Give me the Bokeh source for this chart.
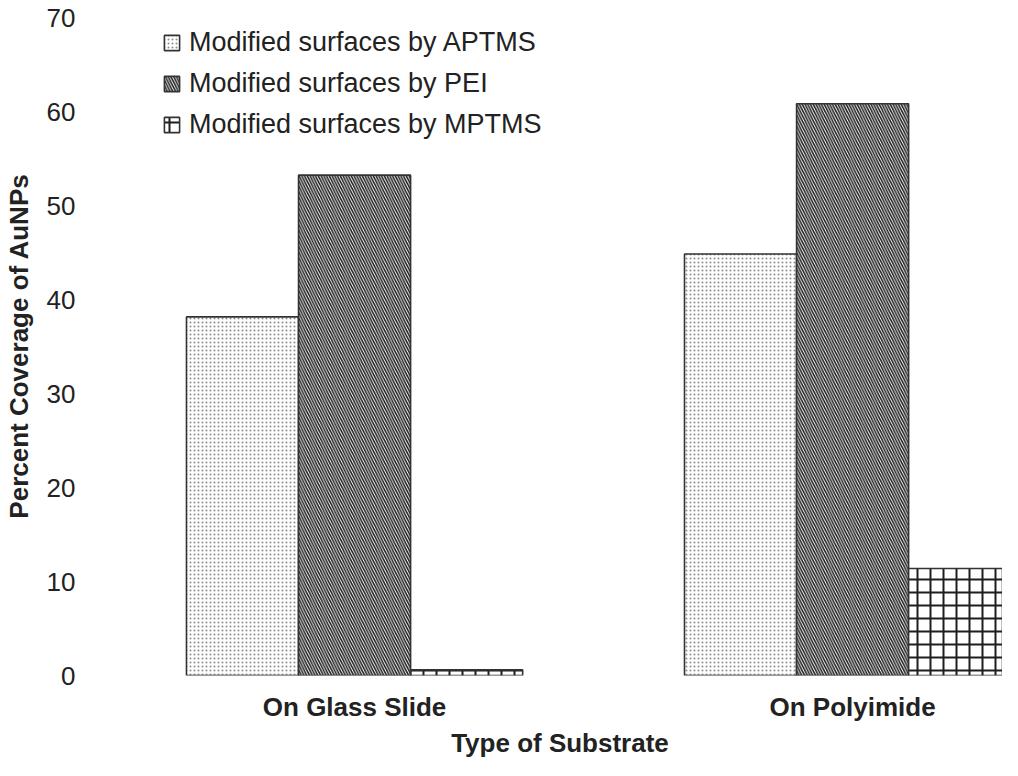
from bokeh.plotting import figure
from bokeh.models import FixedTicker, Legend, LegendItem, ColumnDataSource
from bokeh.embed import file_html
from bokeh.resources import INLINE

# ---- data ----
categories = ["On Glass Slide", "On Polyimide"]
series = ["Modified surfaces by APTMS", "Modified surfaces by PEI", "Modified surfaces by MPTMS"]
aptms = [38.2, 44.9]
pei = [53.3, 60.9]
mptms = [0.6, 11.4]
y_ticks = [0, 10, 20, 30, 40, 50, 60, 70]

FONT = "Liberation Sans"
W, H = 1002, 760
TOP, BOTTOM, LEFT = 16, 73, 110
frame_h = H - TOP - BOTTOM

p = figure(width=W, height=H, output_backend="svg", toolbar_location=None,
           x_range=(-0.476, 1.301), y_range=(0, 70.2),
           min_border_left=LEFT, min_border_right=0, min_border_top=TOP, min_border_bottom=BOTTOM)
p.outline_line_color = None
p.xgrid.grid_line_color = None
p.ygrid.grid_line_color = None
p.background_fill_color = "white"

xs = list(range(len(categories)))
bw = 0.225
styles = [
    dict(hatch_pattern="dot", hatch_scale=4, hatch_weight=1.0, hatch_color="#8c8c8c"),
    dict(hatch_pattern="left_diagonal_line", hatch_scale=5.5, hatch_weight=1.6, hatch_color="#222222"),
    dict(hatch_pattern="cross", hatch_scale=13, hatch_weight=2, hatch_color="#1e1e1e"),
]
items = []
for i, (name, vals, st) in enumerate(zip(series, [aptms, pei, mptms], styles)):
    src = ColumnDataSource(dict(x=[x + (i - 1) * bw for x in xs], top=vals))
    r = p.vbar(x="x", top="top", width=bw, bottom=0, source=src, fill_color="white",
               line_color="#333333", line_width=1.6, **st)
    items.append(LegendItem(label=name, renderers=[r]))

# axes
p.yaxis.ticker = FixedTicker(ticks=y_ticks)
p.yaxis.axis_line_color = None
p.yaxis.major_tick_line_color = None
p.yaxis.minor_tick_line_color = None
p.yaxis.major_label_standoff = 36
p.yaxis.major_label_text_font = FONT
p.yaxis.major_label_text_font_size = "26px"
p.yaxis.major_label_text_color = "#222222"
p.yaxis.axis_label = "Percent Coverage of AuNPs"
p.yaxis.axis_label_text_font = FONT
p.yaxis.axis_label_text_font_size = "26px"
p.yaxis.axis_label_text_font_style = "bold"
p.yaxis.axis_label_text_color = "#222222"
p.yaxis.axis_label_standoff = 10

p.xaxis.ticker = FixedTicker(ticks=xs)
p.xaxis.major_label_overrides = {x: c for x, c in zip(xs, categories)}
p.xaxis.axis_line_color = None
p.xaxis.major_tick_line_color = None
p.xaxis.minor_tick_line_color = None
p.xaxis.major_label_standoff = 10
p.xaxis.major_label_text_font = FONT
p.xaxis.major_label_text_font_size = "26px"
p.xaxis.major_label_text_font_style = "bold"
p.xaxis.major_label_text_color = "#222222"
p.xaxis.axis_label = "Type of Substrate"
p.xaxis.axis_label_text_font = FONT
p.xaxis.axis_label_text_font_size = "26px"
p.xaxis.axis_label_text_font_style = "bold"
p.xaxis.axis_label_text_color = "#222222"
p.xaxis.axis_label_standoff = 3

leg_h = 3 * 32 + 2 * 9
legend = Legend(items=items, location=(45, frame_h - 22 - leg_h), orientation="vertical",
                label_text_font=FONT, label_text_font_size="27px", label_text_color="#222222",
                glyph_width=19, glyph_height=19, label_standoff=8, label_height=32,
                spacing=9, padding=0, margin=0,
                background_fill_alpha=0, border_line_color=None)
p.add_layout(legend)

open("out.html", "w").write(file_html(p, INLINE))
